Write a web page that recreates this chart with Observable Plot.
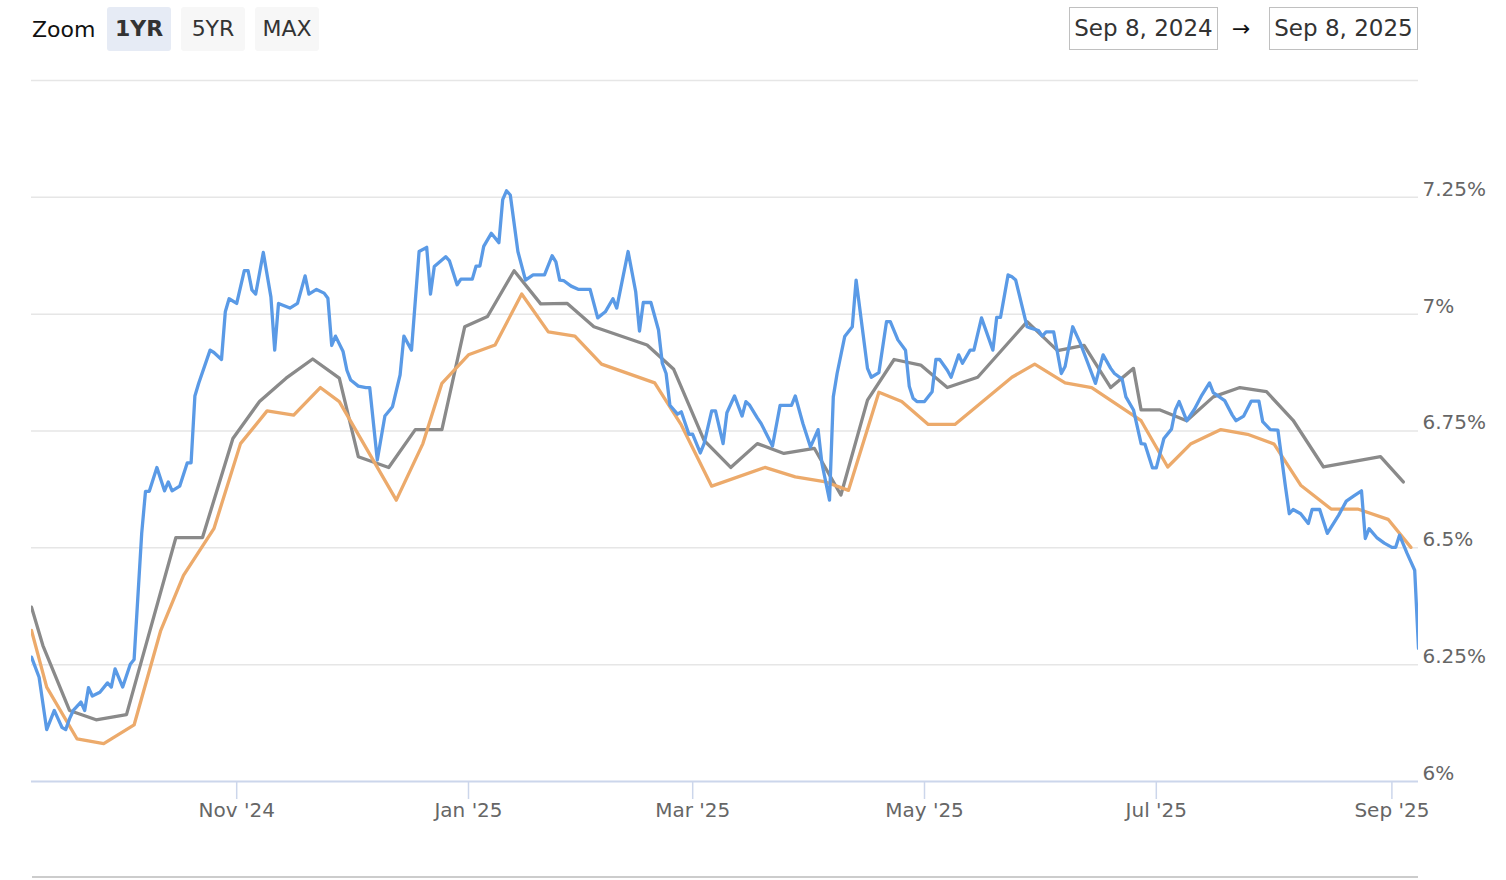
<!DOCTYPE html>
<html>
<head>
<meta charset="utf-8">
<script src="https://cdn.jsdelivr.net/npm/d3@7"></script>
<script src="https://cdn.jsdelivr.net/npm/@observablehq/plot@0.6"></script>
<style>
  body { margin: 0; background: #ffffff; font-family: "DejaVu Sans", sans-serif; }
  #wrap { position: relative; width: 1506px; height: 880px; overflow: hidden; }
  #head { position: relative; height: 60px; }
  .zl { position: absolute; left: 32px; top: 8px; height: 44px; line-height: 44px; font-size: 22px; color: #111; }
  .btn { position: absolute; top: 7px; width: 64px; height: 44px; line-height: 44px; text-align: center;
         font-size: 22px; color: #333; background: #f7f7f7; border-radius: 3px; }
  .btn.sel { background: #e6ebf5; font-weight: bold; }
  .date { position: absolute; top: 7px; width: 149px; height: 43px; box-sizing: border-box; border: 1px solid #c0c0c0;
          line-height: 41px; text-align: center; font-size: 23px; color: #333; }
  .arrow { position: absolute; left: 1232px; top: 7px; line-height: 44px; font-size: 22px; color: #111; }
  #nav { position: absolute; left: 32px; top: 876px; width: 1386px; height: 2px; background: #cccccc; }
</style>
</head>
<body>
<div id="wrap">
  <div id="head"></div>
  <div id="chart"></div>
  <div id="nav"></div>
</div>
<script>
// ---- text ----
const zoomLabel = "Zoom";
const zoomButtons = ["1YR", "5YR", "MAX"];
const dateRange = ["Sep 8, 2024", "Sep 8, 2025"];

// ---- axes ----
const xStart = "2024-09-08";
const xEnd = "2025-09-08";
const xTicks = ["2024-11-01", "2025-01-01", "2025-03-01", "2025-05-01", "2025-07-01", "2025-09-01"];
const yTicks = [6, 6.25, 6.5, 6.75, 7, 7.25];
const gridTicks = [6.25, 6.5, 6.75, 7, 7.25, 7.5];
const yDomain = [6, 7.5];

// ---- series: daily rate (blue) ----
const dailyRate = [
["2024-09-08",6.266],["2024-09-10",6.223],["2024-09-12",6.111],["2024-09-14",6.152],["2024-09-15",6.134],
["2024-09-16",6.116],["2024-09-17",6.111],["2024-09-18",6.134],["2024-09-19",6.152],["2024-09-21",6.170],
["2024-09-22",6.152],["2024-09-23",6.201],["2024-09-24",6.183],["2024-09-26",6.191],["2024-09-28",6.211],
["2024-09-29",6.202],["2024-09-30",6.241],["2024-10-02",6.202],["2024-10-04",6.251],["2024-10-05",6.261],
["2024-10-07",6.531],["2024-10-08",6.621],["2024-10-09",6.621],["2024-10-11",6.672],["2024-10-13",6.622],
["2024-10-14",6.641],["2024-10-15",6.622],["2024-10-17",6.632],["2024-10-19",6.682],["2024-10-20",6.682],
["2024-10-21",6.825],["2024-10-22",6.852],["2024-10-25",6.923],["2024-10-26",6.918],["2024-10-28",6.903],
["2024-10-29",7.005],["2024-10-30",7.033],["2024-11-01",7.023],["2024-11-03",7.093],["2024-11-04",7.093],
["2024-11-05",7.052],["2024-11-06",7.043],["2024-11-08",7.132],["2024-11-10",7.037],["2024-11-11",6.923],
["2024-11-12",7.023],["2024-11-15",7.013],["2024-11-17",7.023],["2024-11-19",7.082],["2024-11-20",7.043],
["2024-11-22",7.053],["2024-11-24",7.045],["2024-11-25",7.034],["2024-11-26",6.933],["2024-11-27",6.953],
["2024-11-29",6.920],["2024-11-30",6.880],["2024-12-01",6.859],["2024-12-03",6.846],["2024-12-05",6.843],
["2024-12-06",6.843],["2024-12-08",6.688],["2024-12-10",6.782],["2024-12-12",6.802],["2024-12-14",6.870],
["2024-12-15",6.953],["2024-12-17",6.923],["2024-12-19",7.134],["2024-12-21",7.143],["2024-12-22",7.043],
["2024-12-23",7.102],["2024-12-26",7.123],["2024-12-27",7.114],["2024-12-29",7.063],["2024-12-30",7.075],
["2025-01-02",7.075],["2025-01-03",7.103],["2025-01-04",7.103],["2025-01-05",7.145],["2025-01-07",7.173],
["2025-01-09",7.153],["2025-01-10",7.245],["2025-01-11",7.264],["2025-01-12",7.255],["2025-01-14",7.134],
["2025-01-16",7.073],["2025-01-18",7.084],["2025-01-21",7.084],["2025-01-23",7.125],["2025-01-24",7.112],
["2025-01-25",7.073],["2025-01-26",7.072],["2025-01-28",7.060],["2025-01-30",7.053],["2025-02-02",7.053],
["2025-02-04",6.992],["2025-02-06",7.005],["2025-02-08",7.033],["2025-02-09",7.013],["2025-02-12",7.134],
["2025-02-14",7.048],["2025-02-15",6.964],["2025-02-16",7.025],["2025-02-18",7.025],["2025-02-20",6.966],
["2025-02-21",6.895],["2025-02-22",6.873],["2025-02-23",6.805],["2025-02-25",6.786],["2025-02-26",6.791],
["2025-02-28",6.743],["2025-03-01",6.743],["2025-03-03",6.703],["2025-03-04",6.723],["2025-03-06",6.793],
["2025-03-07",6.793],["2025-03-09",6.723],["2025-03-10",6.789],["2025-03-12",6.825],["2025-03-14",6.782],
["2025-03-15",6.813],["2025-03-16",6.805],["2025-03-18",6.778],["2025-03-19",6.766],["2025-03-22",6.718],
["2025-03-24",6.805],["2025-03-27",6.805],["2025-03-28",6.825],["2025-03-30",6.766],["2025-04-01",6.716],
["2025-04-03",6.753],["2025-04-04",6.681],["2025-04-06",6.602],["2025-04-07",6.823],["2025-04-08",6.873],
["2025-04-10",6.952],["2025-04-12",6.973],["2025-04-13",7.073],["2025-04-16",6.884],["2025-04-17",6.865],
["2025-04-19",6.875],["2025-04-21",6.984],["2025-04-22",6.984],["2025-04-24",6.945],["2025-04-26",6.923],
["2025-04-27",6.845],["2025-04-28",6.820],["2025-04-29",6.813],["2025-05-01",6.813],["2025-05-03",6.834],
["2025-05-04",6.903],["2025-05-05",6.903],["2025-05-07",6.880],["2025-05-08",6.865],["2025-05-10",6.913],
["2025-05-11",6.895],["2025-05-13",6.923],["2025-05-14",6.923],["2025-05-16",6.992],["2025-05-19",6.923],
["2025-05-20",6.993],["2025-05-21",6.993],["2025-05-23",7.084],["2025-05-24",7.080],["2025-05-25",7.073],
["2025-05-28",6.973],["2025-05-29",6.970],["2025-05-31",6.965],["2025-06-01",6.953],["2025-06-02",6.962],
["2025-06-04",6.962],["2025-06-06",6.873],["2025-06-07",6.888],["2025-06-09",6.973],["2025-06-11",6.938],
["2025-06-13",6.895],["2025-06-15",6.852],["2025-06-17",6.913],["2025-06-19",6.884],["2025-06-20",6.873],
["2025-06-22",6.861],["2025-06-23",6.823],["2025-06-25",6.795],["2025-06-27",6.723],["2025-06-28",6.722],
["2025-06-30",6.671],["2025-07-01",6.671],["2025-07-03",6.734],["2025-07-05",6.754],["2025-07-06",6.795],
["2025-07-07",6.813],["2025-07-09",6.772],["2025-07-11",6.796],["2025-07-13",6.827],["2025-07-15",6.853],
["2025-07-16",6.832],["2025-07-19",6.815],["2025-07-21",6.784],["2025-07-22",6.772],["2025-07-24",6.782],
["2025-07-26",6.814],["2025-07-28",6.814],["2025-07-29",6.770],["2025-07-31",6.753],["2025-08-02",6.752],
["2025-08-04",6.630],["2025-08-05",6.573],["2025-08-06",6.582],["2025-08-08",6.573],["2025-08-10",6.552],
["2025-08-11",6.582],["2025-08-13",6.582],["2025-08-15",6.531],["2025-08-18",6.570],["2025-08-20",6.600],
["2025-08-22",6.611],["2025-08-24",6.622],["2025-08-25",6.520],["2025-08-26",6.541],["2025-08-28",6.522],
["2025-08-30",6.510],["2025-09-01",6.501],["2025-09-02",6.501],["2025-09-03",6.527],["2025-09-05",6.488],
["2025-09-07",6.452],["2025-09-08",6.285]
];

// ---- series: weekly survey A (grey) ----
const weeklyGrey = [
["2024-09-08",6.373],["2024-09-11",6.291],["2024-09-18",6.152],["2024-09-25",6.132],["2024-10-03",6.143],
["2024-10-16",6.522],["2024-10-23",6.522],["2024-10-31",6.734],["2024-11-07",6.813],["2024-11-14",6.863],
["2024-11-21",6.904],["2024-11-28",6.863],["2024-12-03",6.695],["2024-12-11",6.672],["2024-12-18",6.753],
["2024-12-25",6.753],["2024-12-31",6.973],["2025-01-06",6.995],["2025-01-13",7.093],["2025-01-20",7.022],
["2025-01-27",7.023],["2025-02-03",6.973],["2025-02-17",6.934],["2025-02-24",6.882],["2025-03-04",6.730],
["2025-03-11",6.672],["2025-03-18",6.723],["2025-03-25",6.702],["2025-04-02",6.713],["2025-04-09",6.613],
["2025-04-16",6.816],["2025-04-23",6.903],["2025-04-30",6.891],["2025-05-07",6.843],["2025-05-15",6.865],
["2025-05-28",6.984],["2025-06-05",6.922],["2025-06-12",6.933],["2025-06-19",6.843],["2025-06-25",6.884],
["2025-06-27",6.795],["2025-07-02",6.795],["2025-07-09",6.772],["2025-07-16",6.823],["2025-07-23",6.843],
["2025-07-30",6.834],["2025-08-06",6.773],["2025-08-14",6.673],["2025-08-29",6.695],["2025-09-04",6.641]
];

// ---- series: weekly survey B (orange) ----
const weeklyOrange = [
["2024-09-08",6.323],["2024-09-12",6.202],["2024-09-20",6.091],["2024-09-27",6.081],["2024-10-05",6.121],
["2024-10-12",6.323],["2024-10-18",6.441],["2024-10-26",6.541],["2024-11-02",6.723],["2024-11-09",6.793],
["2024-11-16",6.784],["2024-11-23",6.843],["2024-11-28",6.813],["2024-12-13",6.602],["2024-12-20",6.723],
["2024-12-25",6.852],["2025-01-01",6.913],["2025-01-08",6.934],["2025-01-15",7.043],["2025-01-22",6.962],
["2025-01-29",6.953],["2025-02-05",6.893],["2025-02-19",6.853],["2025-02-26",6.763],["2025-03-06",6.632],
["2025-03-20",6.672],["2025-03-28",6.652],["2025-04-05",6.641],["2025-04-11",6.623],["2025-04-19",6.833],
["2025-04-25",6.813],["2025-05-02",6.764],["2025-05-09",6.764],["2025-05-24",6.865],["2025-05-30",6.893],
["2025-06-07",6.853],["2025-06-14",6.843],["2025-06-27",6.772],["2025-07-04",6.673],["2025-07-10",6.722],
["2025-07-18",6.753],["2025-07-25",6.743],["2025-08-01",6.722],["2025-08-08",6.634],["2025-08-16",6.583],
["2025-08-23",6.583],["2025-08-31",6.561],["2025-09-06",6.501]
];

const colors = { daily: "#5a9ae6", grey: "#8a8a8a", orange: "#ecaa6b" };

// ---- header (HTML) ----
const head = document.getElementById("head");
const zl = document.createElement("div");
zl.className = "zl"; zl.textContent = zoomLabel; head.appendChild(zl);
zoomButtons.forEach((t, i) => {
  const b = document.createElement("div");
  b.className = "btn" + (i === 0 ? " sel" : "");
  b.style.left = (107 + i * 74) + "px";
  b.textContent = t;
  head.appendChild(b);
});
dateRange.forEach((t, i) => {
  const d = document.createElement("div");
  d.className = "date";
  d.style.left = (1069 + i * 200) + "px";
  d.textContent = t;
  head.appendChild(d);
});
const ar = document.createElement("div");
ar.className = "arrow"; ar.textContent = "→"; head.appendChild(ar);

// ---- chart ----
const toRows = arr => arr.map(([d, v]) => ({ date: new Date(d), rate: v }));

const chart = Plot.plot({
  width: 1506,
  height: 820,
  marginLeft: 31,
  marginRight: 88,
  marginTop: 20,
  marginBottom: 99,
  style: { fontFamily: "'DejaVu Sans', sans-serif", fontSize: "20px", color: "#666", background: "transparent", overflow: "visible" },
  x: { type: "utc", domain: [new Date(xStart), new Date(xEnd)] },
  y: { domain: yDomain },
  marks: [
    Plot.gridY({ ticks: gridTicks, stroke: "#e6e6e6", strokeOpacity: 1, strokeWidth: 1.5 }),
    Plot.ruleY([yDomain[0]], { stroke: "#ccd6eb", strokeWidth: 2 }),
    Plot.axisX({
      ticks: xTicks.map(d => new Date(d)),
      tickSize: 18, tickPadding: 3,
      stroke: "#ccd6eb", strokeWidth: 1.5, strokeOpacity: 1,
      fill: "#666", fontSize: 20,
      tickFormat: d3.utcFormat("%b '%y"),
      label: null
    }),
    Plot.axisY({
      ticks: yTicks, anchor: "right",
      tickSize: 0, tickPadding: 4, dy: -8,
      fill: "#666", fontSize: 20,
      tickFormat: d => d + "%",
      label: null
    }),
    Plot.line(toRows(weeklyGrey), { x: "date", y: "rate", stroke: colors.grey, strokeWidth: 3.3, clip: true }),
    Plot.line(toRows(weeklyOrange), { x: "date", y: "rate", stroke: colors.orange, strokeWidth: 3.3, clip: true }),
    Plot.line(toRows(dailyRate), { x: "date", y: "rate", stroke: colors.daily, strokeWidth: 3.3, clip: true })
  ]
});
document.getElementById("chart").appendChild(chart);
</script>
</body>
</html>
